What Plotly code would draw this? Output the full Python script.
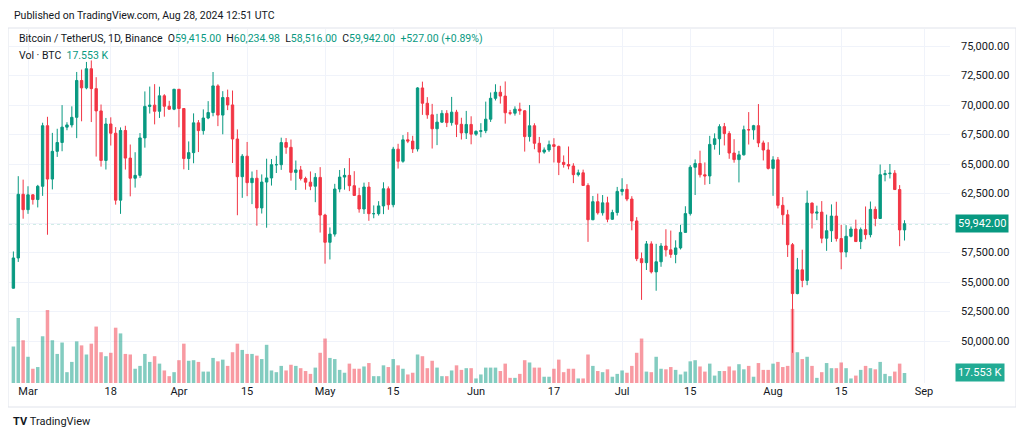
import plotly.graph_objects as go
import pandas as pd

# ---------------- data (BTC/USDT, Binance, 1D) ----------------
dates = pd.date_range("2024-02-27", "2024-08-28", freq="D")

opens = [
    54476, 57037, 62432,
    61130, 62387, 61987, 63113, 68245, 63724, 66074, 66823, 68124, 68313, 68955, 72078, 71452, 73072, 71388, 69499,
    65300, 68393, 67609, 61937, 67840, 65501, 63796, 64037, 67211, 69880, 69988, 69469, 70780, 69897, 69645,
    71333, 69702, 65463, 65963, 68487, 67830, 68896, 69360, 71620, 69146, 70631, 70006, 67116, 63924, 65661,
    63419, 63793, 61277, 63470, 63818, 64941, 64941, 66819, 66414, 64289, 64498, 63770, 63461, 63118, 63866,
    60672, 58364, 59060, 62882, 63892, 64038, 63161, 62334, 61187, 63049, 60792, 60793, 61448, 62901, 61552,
    66256, 65232, 67051, 66940, 66278, 71446, 70148, 69167, 67985, 68549, 69290, 68508, 69394, 68367, 67635, 68354,
    67530, 67766, 67820, 68799, 70567, 71082, 70757, 69342, 69305, 69648, 69508, 67322, 68241, 66757, 66011,
    66191, 66639, 66491, 65140, 64960, 64828, 64096, 64253, 63180, 60277, 61806, 60864, 61707, 60319, 60887,
    62678, 62851, 62029, 60173, 56977, 56639, 58231, 55857, 56715, 58050, 57725, 57340, 57889, 59204, 60797,
    64724, 65043, 64087, 63987, 66660, 67139, 68166, 67578, 65930, 65372, 65777, 67907, 67896, 68249, 66784, 66188,
    64628, 65354, 61498, 60697, 58161, 54018, 56030, 55134, 61686, 60837, 60923, 58712, 59346, 60587,
    58683, 57541, 58874, 59491, 58427, 59438, 59013, 61156, 60381, 64094, 64178, 64220, 62834, 59415,
]
highs = [
    57588, 63968, 63676,
    63114, 62433, 63231, 68499, 69000, 67637, 67985, 69990, 68541, 69887, 72800, 73000, 73650, 73777, 72357, 70043,
    68904, 68956, 68124, 68100, 68240, 66650, 65999, 67622, 71150, 71561, 71769, 71552, 70916, 70355, 71366,
    71342, 69708, 66914, 69291, 68725, 69629, 70327, 72797, 71758, 71172, 71305, 71227, 67931, 65840, 66868,
    64365, 64499, 64117, 65450, 65419, 65695, 67233, 67199, 67075, 65297, 64837, 63923, 64370, 64228, 64734,
    60780, 59625, 63320, 64494, 64646, 65500, 64390, 62986, 63421, 63469, 61490, 61850, 63450, 63099, 66454,
    66712, 67451, 67700, 67387, 71515, 71979, 70666, 70096, 69250, 69563, 69562, 70687, 69590, 68919, 69500, 69044,
    67856, 68460, 70288, 71063, 71758, 71625, 71997, 69583, 69887, 70195, 69565, 69999, 68449, 67294, 66402,
    66983, 67188, 66556, 65727, 66483, 65066, 64526, 64523, 63370, 62292, 62487, 62370, 62227, 61126, 63058,
    63795, 63289, 62272, 60498, 57500, 58475, 58449, 58236, 58296, 59470, 59359, 58533, 59850, 61420, 64900,
    65388, 66128, 65133, 67386, 67598, 68366, 68480, 67779, 67102, 66112, 68250, 69399, 68318, 70079, 66984, 66849,
    65659, 65596, 62198, 61117, 58305, 57040, 57737, 62745, 61744, 61470, 61858, 60711, 61578, 61800,
    59849, 59817, 59700, 60284, 59617, 61400, 61820, 61400, 64955, 64494, 65000, 64481, 63212, 60234.98,
]
lows = [
    54450, 56700, 60364,
    60777, 61561, 61320, 62300, 59005, 62848, 65602, 66082, 67861, 68094, 67194, 68620, 71333, 68555, 65630, 64780,
    64533, 66565, 61555, 60775, 64529, 62260, 63000, 63825, 66385, 69280, 68359, 68903, 69009, 69601, 69562,
    68110, 64550, 64493, 65064, 66011, 67491, 68796, 69043, 68210, 67518, 69567, 65086, 60660, 62134, 62274,
    61600, 59768, 60803, 59600, 63172, 64237, 64500, 65864, 63589, 62794, 63607, 62824, 62781, 61765, 59191,
    56552, 56911, 58848, 62599, 62822, 62700, 62300, 60877, 60769, 60187, 60400, 60630, 60750, 61123, 61330,
    64613, 65106, 66770, 65937, 66060, 69162, 68833, 66312, 66600, 68500, 68128, 68250, 67284, 67075, 67118, 66670,
    67386, 67257, 67612, 68567, 70383, 70119, 68420, 69138, 69101, 69172, 66051, 66902, 66251, 65056, 65871,
    66022, 65130, 64060, 64693, 64547, 63379, 63943, 63180, 58402, 60239, 60712, 60628, 60063, 60272, 60632,
    62333, 61850, 59380, 56771, 53485, 56018, 55724, 54260, 56289, 57157, 57050, 56590, 57756, 59204, 60632,
    62373, 63854, 63238, 63300, 66222, 65777, 66573, 65441, 65111, 63440, 65721, 66650, 67066, 66428, 65302, 64530,
    62302, 61235, 59850, 57122, 49000, 53962, 54558, 54730, 59535, 60242, 58286, 57642, 58392, 58433,
    56078, 57098, 58785, 58408, 57787, 58610, 58783, 59724, 60345, 63531, 63773, 62800, 58034, 58516,
]
closes = [
    57037, 62432, 61130,
    62387, 61987, 63113, 68245, 63724, 66074, 66823, 68124, 68313, 68955, 72078, 71452, 73072, 71388, 69499, 65300,
    68393, 67609, 61937, 67840, 65501, 63796, 64037, 67211, 69880, 69988, 69469, 70780, 69897, 69645, 71333,
    69702, 65463, 65963, 68487, 67830, 68896, 69360, 71620, 69146, 70631, 70006, 67116, 63924, 65661, 63419,
    63793, 61277, 63470, 63818, 64941, 64941, 66819, 66414, 64289, 64498, 63770, 63461, 63118, 63866, 60672,
    58364, 59060, 62882, 63892, 64038, 63161, 62334, 61187, 63049, 60792, 60793, 61448, 62901, 61552, 66256,
    65232, 67051, 66940, 66278, 71446, 70148, 69167, 67985, 68549, 69290, 68508, 69394, 68367, 67635, 68354, 67530,
    67766, 67820, 68799, 70567, 71082, 70757, 69342, 69305, 69648, 69508, 67322, 68241, 66757, 66011, 66191,
    66639, 66491, 65140, 64960, 64828, 64096, 64253, 63180, 60277, 61806, 60864, 61707, 60319, 60887, 62678,
    62851, 62029, 60173, 56977, 56639, 58231, 55857, 56715, 58050, 57725, 57340, 57889, 59204, 60797, 64724,
    65043, 64087, 63987, 66660, 67139, 68166, 67578, 65930, 65372, 65777, 67907, 67896, 68249, 66784, 66188, 64628,
    65354, 61498, 60697, 58161, 54018, 56030, 55134, 61686, 60837, 60923, 58712, 59346, 60587, 58683,
    57541, 58874, 59491, 58427, 59438, 59013, 61156, 60381, 64094, 64178, 64220, 62834, 59415, 59942,
]
volume_k = [
    64, 114, 75,
    46, 25, 28, 82, 128, 75, 51, 71, 19, 37, 73, 66, 50, 69, 99, 54,
    47, 53, 97, 87, 51, 50, 25, 30, 51, 37, 47, 34, 22, 12, 19,
    40, 69, 39, 40, 37, 20, 20, 44, 38, 41, 30, 54, 69, 58, 51,
    51, 48, 42, 67, 22, 19, 30, 22, 32, 30, 26, 21, 16, 27, 53,
    78, 44, 42, 23, 18, 34, 25, 25, 29, 35, 12, 12, 31, 28, 42,
    31, 25, 15, 18, 50, 47, 26, 39, 27, 12, 12, 22, 31, 23, 26, 26,
    8, 15, 27, 27, 27, 21, 34, 9, 9, 16, 40, 36, 27, 27, 11,
    11, 25, 41, 19, 25, 25, 8, 8, 50, 30, 21, 19, 24, 11, 16,
    22, 18, 30, 53, 78, 20, 19, 46, 25, 24, 28, 23, 15, 20, 38,
    40, 29, 20, 34, 13, 21, 21, 29, 22, 33, 24, 30, 11, 35, 23, 23,
    34, 37, 28, 30, 130, 54, 42, 46, 30, 9, 19, 35, 26, 26,
    36, 26, 8, 13, 23, 30, 26, 24, 37, 16, 12, 20, 34, 17.553,
]

x_tick_dates = ["2024-03-01", "2024-03-18", "2024-04-01", "2024-04-15", "2024-05-01", "2024-05-15",
                "2024-06-01", "2024-06-17", "2024-07-01", "2024-07-15", "2024-08-01", "2024-08-15", "2024-09-01"]
x_tick_text = ["Mar", "18", "Apr", "15", "May", "15", "Jun", "17", "Jul", "15", "Aug", "15", "Sep"]
price_ticks = [50000, 52500, 55000, 57500, 60000, 62500, 65000, 67500, 70000, 72500, 75000]
price_tick_text = ["50,000.00", "52,500.00", "55,000.00", "57,500.00", "", "62,500.00", "65,000.00",
                   "67,500.00", "70,000.00", "72,500.00", "75,000.00"]
last_price = 59942
last_volume_k = 17.553

assert len(dates) == len(opens) == len(highs) == len(lows) == len(closes) == len(volume_k)

# ---------------- styling ----------------
UP = "#089981"
DOWN = "#F23645"
UP_VOL = "rgba(8,153,129,0.5)"
DOWN_VOL = "rgba(242,54,69,0.5)"
TXT = "#131722"
GRID = "#f0f3fa"
FONT = "Roboto, Inter, sans-serif"

# the page body adds an 8px offset; lay out in screen coordinates minus 8
OFF = 8
FW, FH = 1024 - OFF, 442 - OFF

vol_colors = [UP_VOL if c >= o else DOWN_VOL for o, c in zip(opens, closes)]

fig = go.Figure()
fig.add_trace(go.Bar(x=dates, y=volume_k, marker=dict(color=vol_colors, line=dict(width=0)),
                     yaxis="y", hoverinfo="skip"))
fig.add_trace(go.Candlestick(
    x=dates, open=opens, high=highs, low=lows, close=closes, yaxis="y2",
    increasing=dict(line=dict(color=UP, width=1), fillcolor=UP),
    decreasing=dict(line=dict(color=DOWN, width=1), fillcolor=DOWN),
    whiskerwidth=0,
))

# plot area in screen pixels
L, R, T, B = 9, 950, 29, 383
W, H = R - L, B - T
def px(xp):
    return (xp - L) / W
def py(yp):
    return (B - yp) / H

fig.update_layout(
    width=FW, height=FH,
    margin=dict(l=L - OFF, r=1024 - R, t=T - OFF, b=442 - B, autoexpand=False),
    paper_bgcolor="white", plot_bgcolor="white",
    showlegend=False, bargap=0.28,
    font=dict(family=FONT, size=11, color=TXT),
    xaxis=dict(type="date", range=["2024-02-26 02:21", "2024-09-06 08:10"],
               tickvals=x_tick_dates, ticktext=x_tick_text, tickangle=0,
               showgrid=True, gridcolor=GRID, gridwidth=1, zeroline=False,
               rangeslider=dict(visible=False), ticks="", showline=False,
               tickfont=dict(size=11, color=TXT)),
    yaxis=dict(range=[0, 621], visible=False, showgrid=False, zeroline=False),
    yaxis2=dict(overlaying="y", side="right", range=[46441, 76441],
                tickvals=price_ticks, ticktext=price_tick_text,
                showgrid=True, gridcolor=GRID, gridwidth=1, zeroline=False,
                ticks="", ticklabelstandoff=10, showline=False,
                tickfont=dict(size=11, color=TXT)),
)

shapes = [
    dict(type="rect", xref="paper", yref="paper", x0=px(8), x1=px(1016), y0=py(407), y1=py(28),
         line=dict(color="#e0e3eb", width=1), fillcolor="rgba(0,0,0,0)", layer="below"),
    dict(type="line", xref="paper", yref="y2", x0=0, x1=1, y0=last_price, y1=last_price,
         line=dict(color=UP, width=1, dash="dot"), layer="below"),
]
fig.update_layout(shapes=shapes)

ann = []
ann.append(dict(text="Published on TradingView.com, Aug 28, 2024 12:51 UTC", xref="paper", yref="paper",
                x=px(12), y=py(16), xanchor="left", yanchor="middle", showarrow=False,
                font=dict(size=10.5, color=TXT, family=FONT)))
teal = lambda s: f"<span style='color:{UP}'>{s}</span>"
legend = ("Bitcoin / TetherUS, 1D, Binance&nbsp;&nbsp;" +
          "O" + teal("59,415.00") + "&nbsp;&nbsp;H" + teal("60,234.98") +
          "&nbsp;&nbsp;L" + teal("58,516.00") + "&nbsp;&nbsp;C" + teal("59,942.00") +
          "&nbsp;&nbsp;" + teal("+527.00 (+0.89%)"))
ann.append(dict(text=legend, xref="paper", yref="paper", x=px(17), y=py(38), xanchor="left",
                yanchor="middle", showarrow=False, font=dict(size=10.5, color=TXT, family=FONT)))
ann.append(dict(text="Vol · BTC&nbsp;&nbsp;" + teal("17.553 K"), xref="paper", yref="paper",
                x=px(17), y=py(55), xanchor="left", yanchor="middle", showarrow=False,
                font=dict(size=10.5, color=TXT, family=FONT)))
ann.append(dict(text="59,942.00", xref="paper", yref="y2", x=px(955), y=last_price,
                xanchor="left", yanchor="middle", showarrow=False, bgcolor=UP,
                font=dict(size=11, color="white", family=FONT), borderpad=2))
ann.append(dict(text="17.553 K", xref="paper", yref="y", x=px(955), y=last_volume_k,
                xanchor="left", yanchor="middle", showarrow=False, bgcolor="#22ab94",
                font=dict(size=11, color="white", family=FONT), borderpad=2))
ann.append(dict(text="<b>TV</b>&nbsp;TradingView", xref="paper", yref="paper", x=px(11), y=py(421),
                xanchor="left", yanchor="middle", showarrow=False,
                font=dict(size=11, color=TXT, family=FONT)))
fig.update_layout(annotations=ann)

fig.write_html("out.html")
